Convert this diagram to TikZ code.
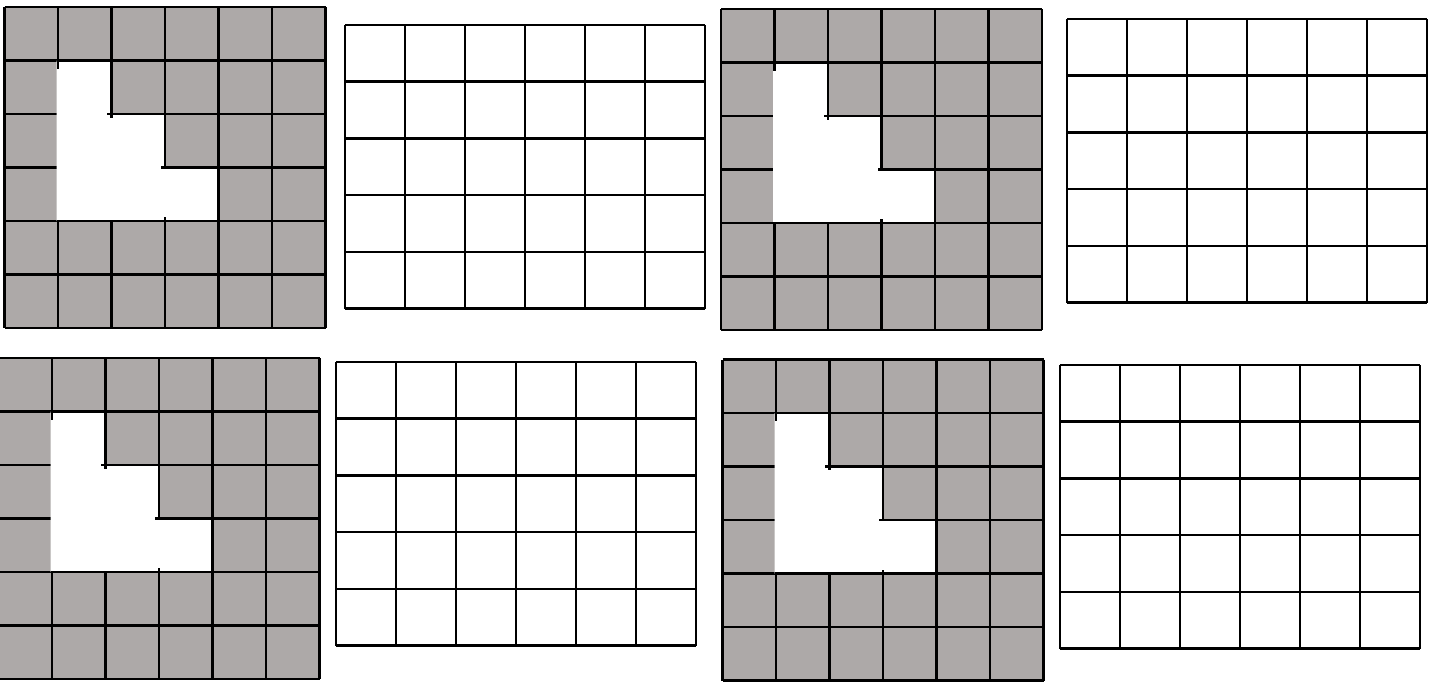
\documentclass[tikz,border=0pt]{standalone}
\definecolor{cellgray}{RGB}{173,169,168}
\begin{document}
\begin{tikzpicture}[x=1pt,y=-1pt,line width=2.6pt]
\useasboundingbox (0,0) rectangle (1434,681);

\coordinate (G1) at (4.5,7);
\coordinate (G3) at (721,9);
\coordinate (G5) at (-1.5,358);
\coordinate (G7) at (722.5,359.5);

\coordinate (W2) at (345,25);
\coordinate (W4) at (1067,19);
\coordinate (W6) at (336,362);
\coordinate (W8) at (1060,365);

% gray boards with the white staircase
\foreach \board in {G1,G3,G5,G7} {
  \begin{scope}[shift={(\board)},x=53.5pt,y=-53.5pt]
    \fill[cellgray] (0,0) rectangle (6,6);
    \foreach \i in {0,...,6} {
      \draw (\i,0) -- (\i,6);
      \draw (0,\i) -- (6,\i);
    }
    \fill[white] (0.975,1) -- (2,1) -- (2,2) -- (3,2) -- (3,3)
      -- (4,3) -- (4,4) -- (0.975,4) -- cycle;
    \draw[line cap=rect] (1,1) -| (2,2) -| (3,3) -| (4,4) -- (1,4);
    \draw (1,1) -- (1,1.15);
    % small ticks left at the corners
    \draw (2,2) -- (1.92,2) (2,2) -- (2,2.07);
    \draw (3,3) -- (2.93,3);
    \draw (3,4) -- (3,3.93);
  \end{scope}
}

% empty boards
\foreach \board in {W2,W4,W6,W8} {
  \begin{scope}[shift={(\board)},x=60pt,y=-56.7pt]
    \foreach \i in {0,...,6}
      \draw (\i,0) -- (\i,5);
    \foreach \j in {0,...,5}
      \draw (0,\j) -- (6,\j);
  \end{scope}
}
\end{tikzpicture}
\end{document}
